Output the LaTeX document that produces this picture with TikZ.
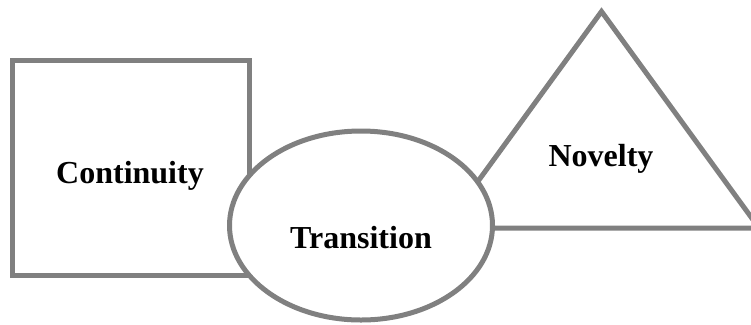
\documentclass[tikz,border=0pt]{standalone}
\usepackage{fontspec}
\setmainfont{Liberation Serif}
\definecolor{shapegray}{RGB}{128,128,128}
\begin{document}
\begin{tikzpicture}[x=1bp,y=-1bp,
  shapeline/.style={draw=shapegray,line width=5bp,line join=miter},
  label/.style={anchor=base,inner sep=0pt,font=\fontsize{32bp}{36bp}\selectfont\bfseries}]
  \clip (0,0) rectangle (751,324);
  \useasboundingbox (0,0) rectangle (751,324);
  % square
  \draw[shapeline,fill=white] (12.5,60) rectangle (249.5,275);
  % triangle
  \draw[shapeline,fill=white] (601.5,11.5) -- (759,228) -- (444,228) -- cycle;
  % ellipse in front of both
  \draw[shapeline,fill=white] (361,225.5) ellipse [x radius=131.5,y radius=94.5];
  % labels
  \node[label] (continuity) at (130,183.5) {Continuity};
  \node[label] (novelty) at (601,166) {Novelty};
  \node[label] (transition) at (361,248.5) {Transition};
\end{tikzpicture}
\end{document}
